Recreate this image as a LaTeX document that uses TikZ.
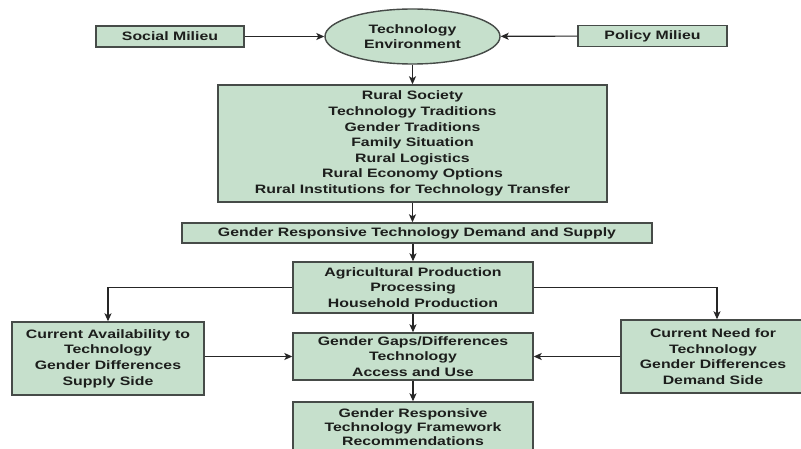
\documentclass[tikz,border=0pt]{standalone}
\usepackage{fontspec}
\setmainfont{Liberation Sans}[FakeStretch=1.3]
\usetikzlibrary{arrows.meta,shapes.geometric}
\definecolor{boxfill}{RGB}{198,224,204}
\definecolor{boxline}{RGB}{70,75,72}
\definecolor{txt}{RGB}{28,30,28}
\tikzset{
  box/.style={draw=boxline, line width=1.4pt, fill=boxfill, inner sep=0pt, align=center,
    text=txt, font=\fontsize{12.2}{15.6}\selectfont\bfseries},
  ell/.style={box, ellipse},
  conn/.style={draw=black!85, line width=1.1pt, -{Stealth[length=8pt,width=7pt,inset=2pt]}}
}
\begin{document}
\begin{tikzpicture}[x=1pt,y=-1pt]
\clip (0,0) rectangle (801,449);
\fill[white] (0,0) rectangle (801,449);
\node[box, minimum width=148pt, minimum height=21pt] (social) at (170,36.5) {Social Milieu};
\node[ell, minimum width=175pt, minimum height=55pt] (env) at (412.5,36.5) {Technology\\Environment};
\node[box, minimum width=149pt, minimum height=21pt] (policy) at (652.5,36) {Policy Milieu};
\node[box, minimum width=389pt, minimum height=117pt] (rural) at (412.5,143.5) {Rural Society\\Technology Traditions\\Gender Traditions\\Family Situation\\Rural Logistics\\Rural Economy Options\\Rural Institutions for Technology Transfer};
\node[box, minimum width=470pt, minimum height=20pt] (grtds) at (417,233) {Gender Responsive Technology Demand and Supply};
\node[box, minimum width=240pt, minimum height=51pt] (agri) at (413,287.5) {Agricultural Production\\Processing\\Household Production};
\node[box, minimum width=192pt, minimum height=73pt] (avail) at (108,358.5) {Current Availability to\\Technology\\Gender Differences\\Supply Side};
\node[box, minimum width=184pt, minimum height=73pt] (need) at (713,356.5) {Current Need for\\Technology\\Gender Differences\\Demand Side};
\node[box, minimum width=240pt, minimum height=47pt] (gaps) at (413,356.5) {Gender Gaps/Differences\\Technology\\Access and Use};
\node[box, minimum width=240pt, minimum height=50pt, font=\fontsize{12.2}{14}\selectfont\bfseries] (recs) at (413,427) {Gender Responsive\\Technology Framework\\Recommendations};
\draw[conn] (social) -- (env);
\draw[conn] (policy) -- (env);
\draw[conn] (env) -- (rural);
\draw[conn] (rural.south) -- (rural.south |- grtds.north);
\draw[conn] (agri.north |- grtds.south) -- (agri.north);
\draw[conn] (agri.west) -| (avail.north);
\draw[conn] (agri.east) -| ([xshift=4pt]need.north);
\draw[conn] (agri) -- (gaps);
\draw[conn] (avail.east |- gaps.west) -- (gaps.west);
\draw[conn] (need.west |- gaps.east) -- (gaps.east);
\draw[conn] (gaps) -- (recs);
\end{tikzpicture}
\end{document}
